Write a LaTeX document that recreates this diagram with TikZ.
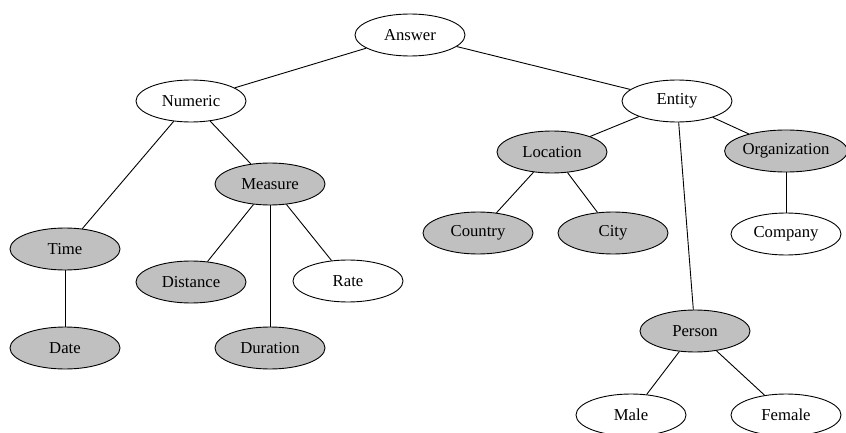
\documentclass[tikz,border=0pt]{standalone}
\usepackage{fontspec}
\setmainfont{Liberation Serif}
\usetikzlibrary{shapes.geometric}
\definecolor{cls}{HTML}{C0C0C0}
\begin{document}
\begin{tikzpicture}[x=1pt,y=-1pt,
  cat/.style={ellipse,draw=black,line width=0.9pt,minimum width=110pt,minimum height=42pt,
    inner sep=0pt,font=\fontsize{16.7}{20}\selectfont},
  leaf/.style={cat,fill=white},
  typed/.style={cat,fill=cls},
  link/.style={draw=black,line width=0.9pt}]
\useasboundingbox (0,0) rectangle (846,433);
\fill[white] (0,0) rectangle (846,433);
% top level
\node[leaf]  (answer)   at (410,35)  {Answer};
\node[leaf]  (numeric)  at (191,101) {Numeric};
\node[leaf]  (entity)   at (677,101) {Entity};
% numeric branch
\node[typed] (measure)  at (270,184) {Measure};
\node[typed] (time)     at (65,249)  {Time};
\node[typed] (date)     at (65,348)  {Date};
\node[typed] (distance) at (191,282) {Distance};
\node[leaf]  (rate)     at (348,281) {Rate};
\node[typed] (duration) at (270,348) {Duration};
% entity branch
\node[typed] (location) at (552,152) {Location};
\node[typed] (org)      at (786,151) {Organization};
\node[typed] (country)  at (478,233) {Country};
\node[typed] (city)     at (613,233) {City};
\node[leaf]  (company)  at (786,234) {Company};
\node[typed] (person)   at (695,331) {Person};
\node[leaf]  (male)     at (631,415) {Male};
\node[leaf]  (female)   at (786,415) {Female};
% hierarchy
\draw[link] (answer) -- (numeric);
\draw[link] (answer) -- (entity);
\draw[link] (numeric) -- (time);
\draw[link] (numeric) -- (measure);
\draw[link] (time) -- (date);
\draw[link] (measure) -- (distance);
\draw[link] (measure) -- (duration);
\draw[link] (measure) -- (rate);
\draw[link] (entity) -- (location);
\draw[link] (entity) -- (org);
\draw[link] (entity) -- (person);
\draw[link] (location) -- (country);
\draw[link] (location) -- (city);
\draw[link] (org) -- (company);
\draw[link] (person) -- (male);
\draw[link] (person) -- (female);
\end{tikzpicture}
\end{document}
